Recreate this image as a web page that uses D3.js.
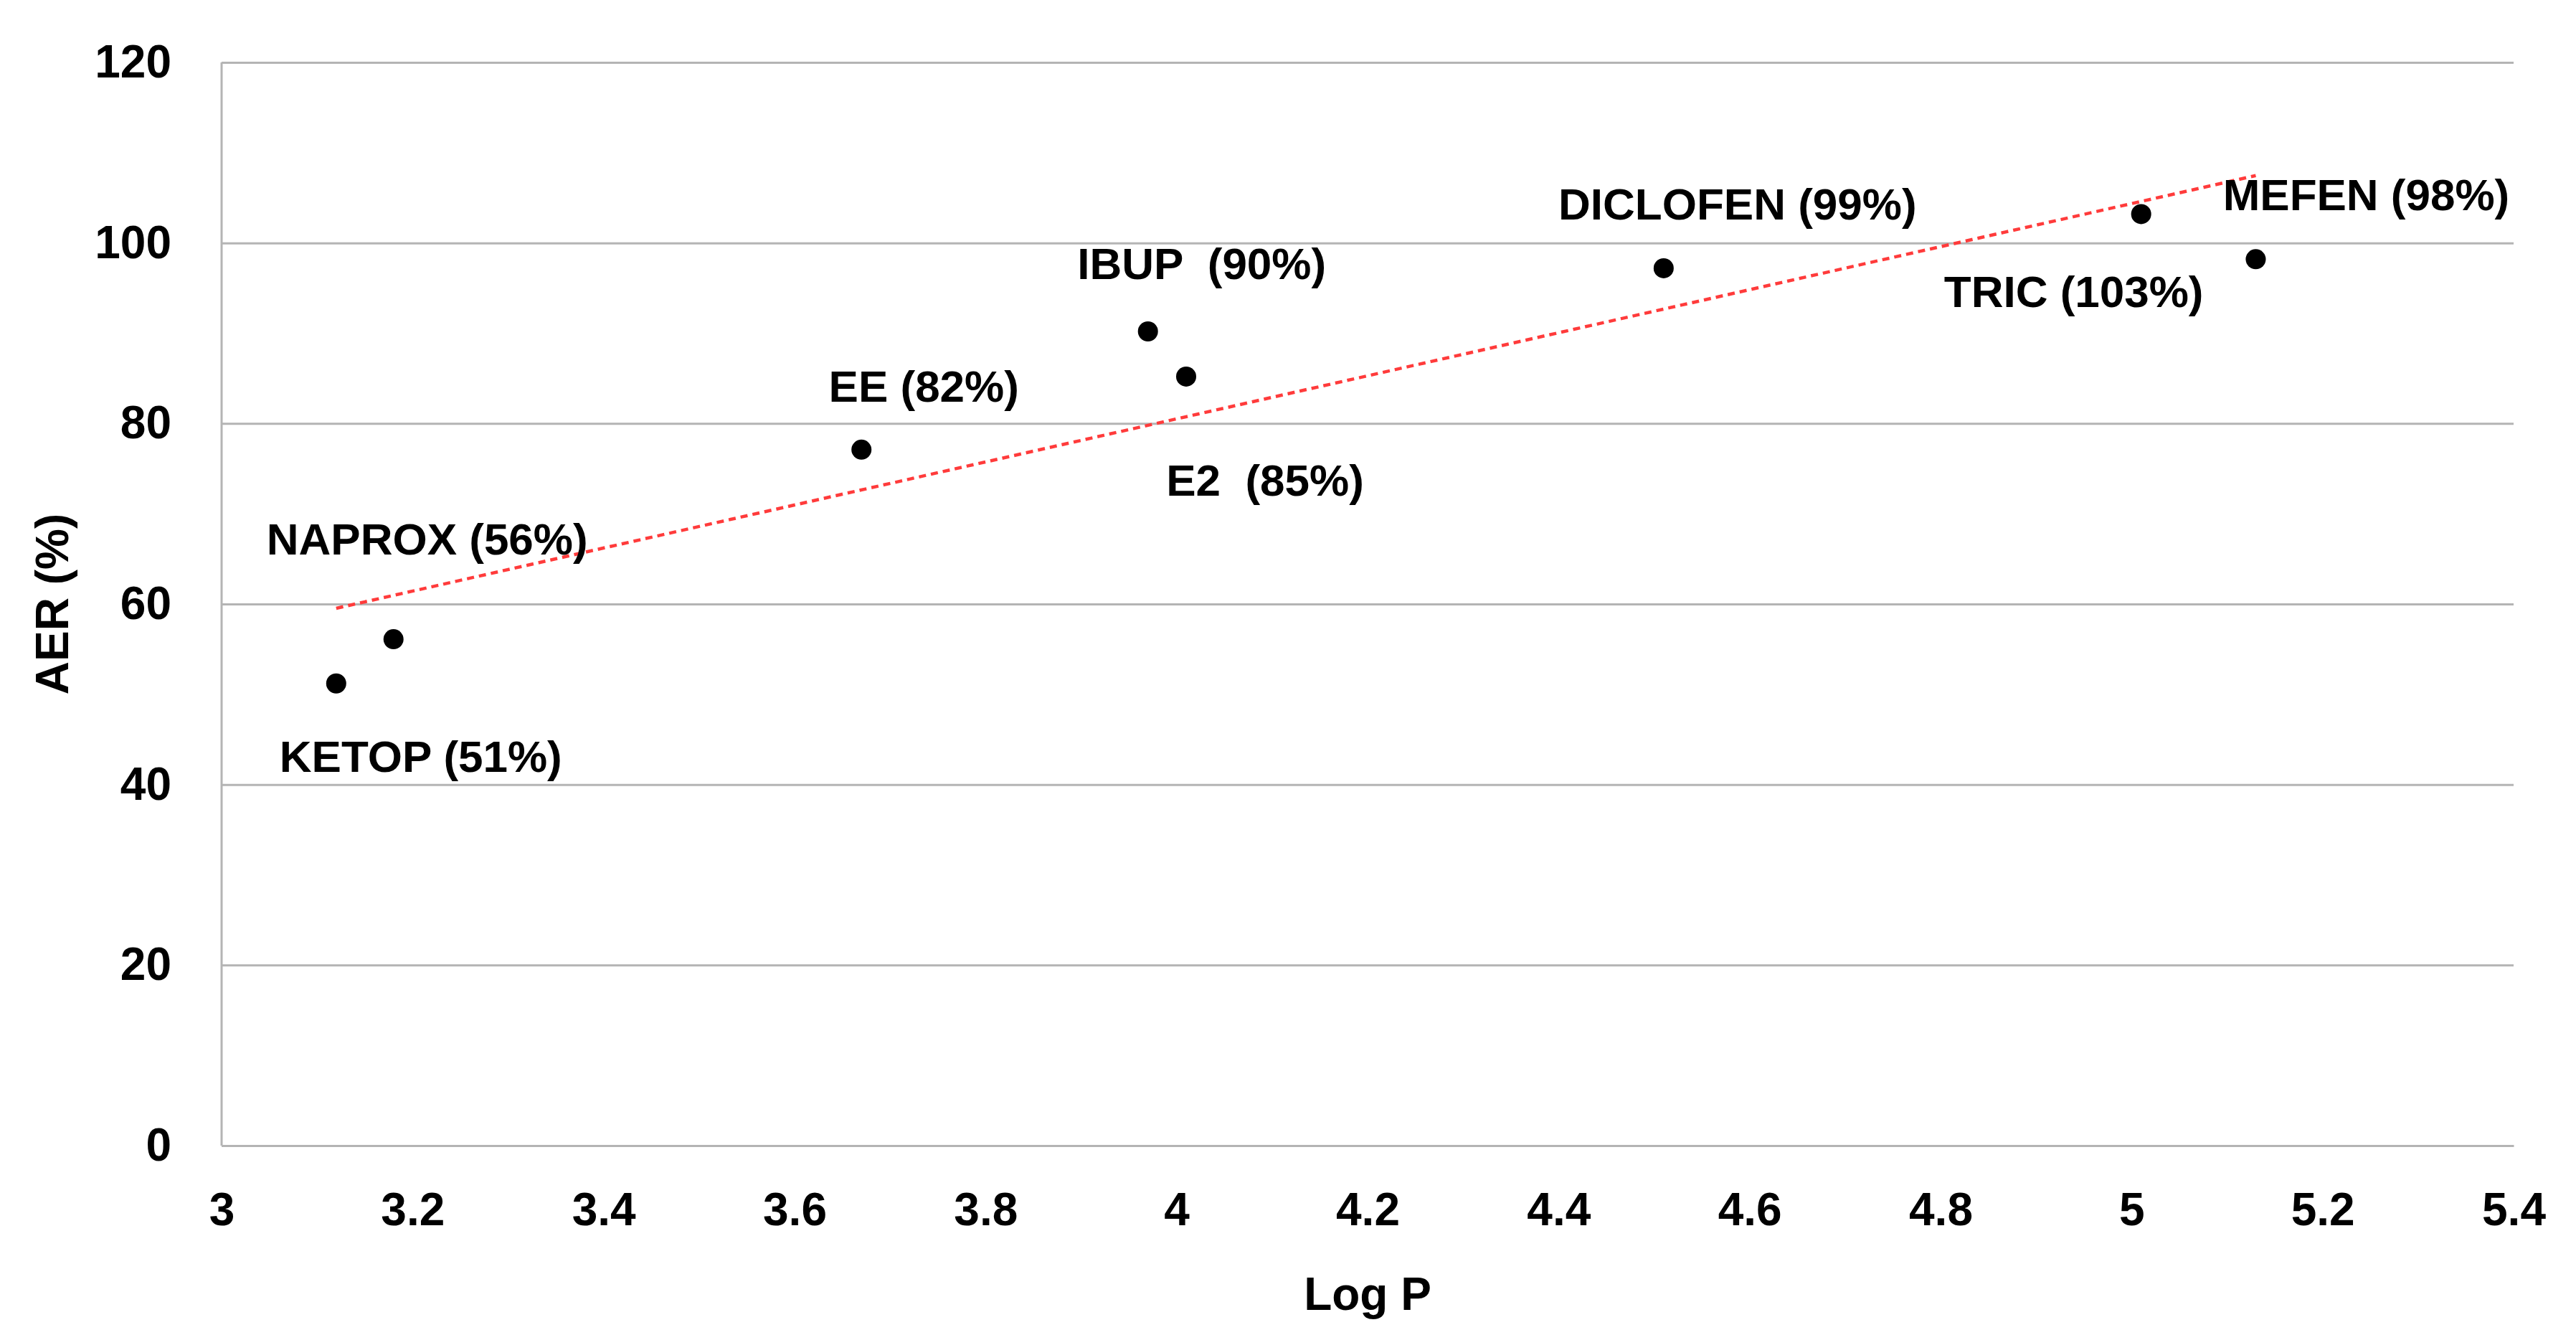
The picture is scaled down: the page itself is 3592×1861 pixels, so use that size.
<!DOCTYPE html>
<head>
  <meta charset="utf-8">
  <script src="https://d3js.org/d3.v7.min.js"></script>
  <style>
    body { margin:0; background:#fff; }
    text { font-family: "Liberation Sans", Arial, sans-serif; }
  </style>
</head>

<body>
  <script>

    var width = 3592,
        height = 1861;

    // data
    var drugs = ["KETOP", "NAPROX", "EE", "IBUP", "E2", "DICLOFEN", "TRIC", "MEFEN"];
    var logP = [3.12, 3.18, 3.67, 3.97, 4.01, 4.51, 5.01, 5.13];
    var aer = [51.2, 56.1, 77.1, 90.2, 85.2, 97.2, 103.2, 98.2];
    var labels = ["KETOP (51%)", "NAPROX (56%)", "EE (82%)", "IBUP  (90%)", "E2  (85%)", "DICLOFEN (99%)", "TRIC (103%)", "MEFEN (98%)"];
    var xTicks = [3, 3.2, 3.4, 3.6, 3.8, 4, 4.2, 4.4, 4.6, 4.8, 5, 5.2, 5.4];
    var yTicks = [0, 20, 40, 60, 80, 100, 120];

    // label offsets from their point, in px
    var labelOffset = {
      KETOP: [118, 101], NAPROX: [47, -140], EE: [87, -89], IBUP: [75, -95],
      E2: [110, 144], DICLOFEN: [103, -90], TRIC: [-94, 107], MEFEN: [154, -91]
    };

    var margin = {left: 309, right: 87, top: 87, bottom: 264};
    var w = width - margin.left - margin.right,
        h = height - margin.top - margin.bottom;

    var svg = d3.select("body").append("svg")
      .attr("width", width)
      .attr("height", height);

    var g = svg.append("g").attr("transform", "translate(" + margin.left + "," + margin.top + ")");

    var x = d3.scaleLinear().domain([3, 5.4]).range([0, w]);
    var y = d3.scaleLinear().domain([0, 120]).range([h, 0]);

    // gridlines + y labels
    var yAxis = g.append("g")
      .call(d3.axisLeft(y).tickValues(yTicks).tickSize(-w).tickPadding(70).tickFormat(d3.format("d")));
    yAxis.select(".domain").remove();
    yAxis.selectAll("line").attr("stroke", "#b4b4b4").attr("stroke-width", 3);
    yAxis.selectAll("text")
      .attr("font-size", 64).attr("font-weight", "bold").attr("fill", "#000")
      .attr("font-family", "Liberation Sans, Arial, sans-serif");

    // left axis line
    g.append("line").attr("x1", 0).attr("x2", 0).attr("y1", 0).attr("y2", h)
      .attr("stroke", "#b4b4b4").attr("stroke-width", 3);

    var xAxis = g.append("g").attr("transform", "translate(0," + h + ")")
      .call(d3.axisBottom(x).tickValues(xTicks).tickSize(0).tickPadding(66)
        .tickFormat(function(d) { return +d.toFixed(1); }));
    xAxis.select(".domain").attr("stroke", "#b4b4b4").attr("stroke-width", 3);
    xAxis.selectAll("text")
      .attr("font-size", 64).attr("font-weight", "bold").attr("fill", "#000")
      .attr("font-family", "Liberation Sans, Arial, sans-serif");

    // linear trendline from the points
    var mx = d3.mean(logP), my = d3.mean(aer);
    var sxy = d3.sum(logP, function(v, i) { return (v - mx) * (aer[i] - my); });
    var sxx = d3.sum(logP, function(v) { return (v - mx) * (v - mx); });
    var slope = sxy / sxx, icpt = my - slope * mx;
    var ext = d3.extent(logP);
    g.append("path")
      .datum(ext.map(function(v) { return [v, icpt + slope * v]; }))
      .attr("d", d3.line().x(function(d) { return x(d[0]); }).y(function(d) { return y(d[1]); }))
      .attr("fill", "none")
      .attr("stroke", "#ff3b3b")
      .attr("stroke-width", 4.5)
      .attr("stroke-dasharray", "10,7");

    var pts = drugs.map(function(d, i) { return {name: d, x: logP[i], y: aer[i], label: labels[i]}; });

    g.selectAll("circle.pt").data(pts).enter()
      .append("circle")
      .attr("class", "pt")
      .attr("cx", function(d) { return x(d.x); })
      .attr("cy", function(d) { return y(d.y); })
      .attr("r", 14)
      .attr("fill", "#000");

    g.selectAll("text.lbl").data(pts).enter()
      .append("text")
      .attr("class", "lbl")
      .attr("x", function(d) { return x(d.x) + labelOffset[d.name][0]; })
      .attr("y", function(d) { return y(d.y) + labelOffset[d.name][1]; })
      .attr("dy", "0.36em")
      .attr("text-anchor", "middle")
      .attr("font-size", 62)
      .attr("font-weight", "bold")
      .style("white-space", "pre")
      .text(function(d) { return d.label; });

    // axis titles
    svg.append("text")
      .attr("x", margin.left + w / 2)
      .attr("y", 1803)
      .attr("dy", "0.36em")
      .attr("text-anchor", "middle")
      .attr("font-size", 64)
      .attr("font-weight", "bold")
      .text("Log P");

    svg.append("text")
      .attr("transform", "translate(72," + (margin.top + h / 2) + ") rotate(-90)")
      .attr("dy", "0.36em")
      .attr("text-anchor", "middle")
      .attr("font-size", 64)
      .attr("font-weight", "bold")
      .text("AER (%)");

  </script>
</body>
